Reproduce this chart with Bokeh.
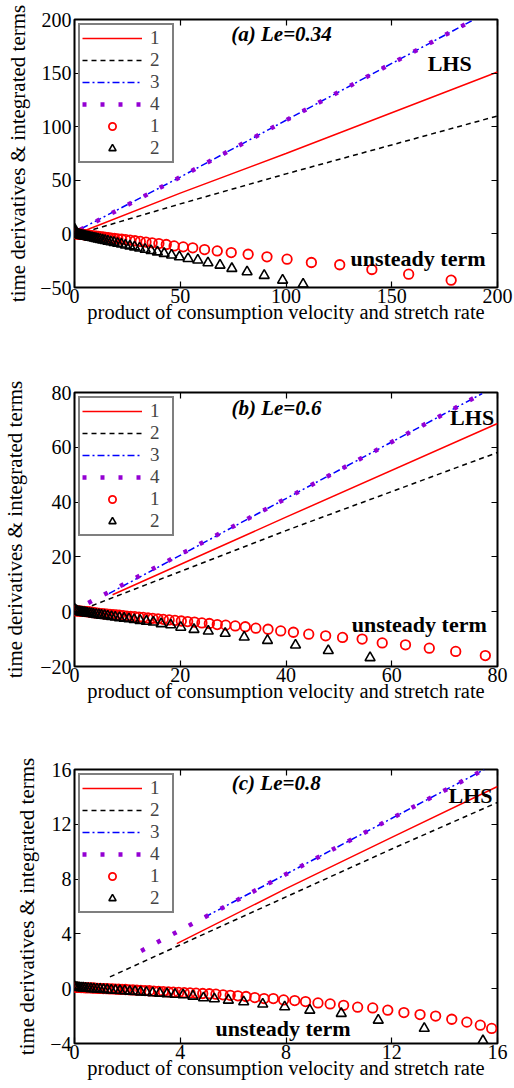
from bokeh.plotting import figure
from bokeh.models import Range1d, LinearAxis, FixedTicker, Legend, LegendItem, Label
from bokeh.layouts import column
from bokeh.embed import file_html
from bokeh.resources import INLINE

SERIF = "Liberation Serif"

# ---------------- panel (a) Le=0.34 ----------------
a_line1_x = [5.0, 50, 100, 150, 200]
a_line1_y = [3.2, 38, 75, 113, 151]
a_line2_x = [8.9, 50, 100, 150, 200]
a_line2_y = [4.1, 28, 56, 83, 110]
a_line3_x = [3.3, 50, 100, 150, 189]
a_line3_y = [5.0, 53, 106, 159, 200]
a_line4_x = [2.7, 50, 100, 150, 189]
a_line4_y = [3.8, 53, 106, 159, 200]
a_circ_x = [178.1, 158.0, 140.6, 125.4, 112.0, 100.5, 91.0, 82.1, 74.1, 67.5, 61.5, 55.9, 51.4, 47.1,
            43.4, 39.9, 36.7, 33.8, 31.1, 28.6, 26.3, 24.2, 22.3, 20.5, 18.9, 17.4, 16.0, 14.7, 13.5,
            12.4, 11.4, 10.4, 9.5, 8.7, 7.9, 7.2, 6.5, 5.9, 5.3, 4.7, 4.2, 3.7, 3.2, 2.8, 2.4, 2.0,
            1.6, 1.3, 1.0, 0.7, 0.4, 0.2, 0.0]
a_circ_y = [-43.2, -37.6, -33.2, -28.8, -26.7, -23.6, -21.4, -19.0, -17.4, -15.9, -14.6, -13.0, -12.1,
            -11.2, -9.9, -9.0, -8.3, -7.6, -7.0, -6.4, -5.9, -5.4, -5.0, -4.6, -4.2, -3.9, -3.5, -3.2,
            -2.9, -2.7, -2.4, -2.2, -2.0, -1.8, -1.6, -1.4, -1.2, -1.1, -0.9, -0.8, -0.6, -0.5, -0.4,
            -0.3, -0.2, -0.1, 0.0, 0.1, 0.2, 0.3, 0.4, 0.5, 0.6]
a_tri_x = [108.1, 98.4, 89.7, 81.6, 74.4, 68.8, 63.1, 58.3, 53.7, 49.6, 45.9, 42.4, 39.2, 36.2, 33.4,
           30.8, 28.4, 26.2, 24.1, 22.2, 20.4, 18.7, 17.2, 15.8, 14.5, 13.3, 12.2, 11.1, 10.1, 9.2,
           8.3, 7.5, 6.8, 6.1, 5.4, 4.8, 4.2, 3.6, 3.1, 2.6, 2.2, 1.8, 1.4, 1.0, 0.7, 0.4, 0.2, 0.1,
           0.05, 0.0]
a_tri_y = [-46.9, -43.2, -38.8, -35.4, -32.3, -29.2, -27.0, -24.5, -23.0, -21.4, -19.8, -18.3, -16.9,
           -15.6, -14.4, -13.3, -12.2, -11.3, -10.4, -9.5, -8.8, -8.0, -7.4, -6.8, -6.2, -5.7, -5.2,
           -4.8, -4.3, -3.9, -3.5, -3.2, -2.9, -2.6, -2.3, -2.0, -1.7, -1.5, -1.2, -1.0, -0.8, -0.6,
           -0.4, -0.2, 0.1, 0.5, 1.0, 3.0, 4.5, 2.0]
a_xticks = [0, 50, 100, 150, 200]
a_yticks = [-50, 0, 50, 100, 150, 200]

# ---------------- panel (b) Le=0.6 ----------------
b_line1_x = [7.2, 40, 80]
b_line1_y = [6.2, 34.5, 68.7]
b_line2_x = [1.7, 40, 80]
b_line2_y = [1.0, 29.6, 58.1]
b_line3_x = [6.5, 40, 77.1]
b_line3_y = [6.6, 41.3, 79.6]
b_line4_x = [2.6, 40, 77.1]
b_line4_y = [3.2, 41.3, 79.6]
b_circ_x = [77.7, 72.1, 67.1, 62.6, 58.2, 54.4, 50.7, 47.5, 44.3, 41.4, 39.0, 36.6, 34.3, 32.3, 30.4,
            28.6, 27.0, 25.5, 24.1, 22.7, 21.4, 20.2, 19.0, 17.9, 16.8, 15.8, 14.8, 13.9, 13.0, 12.2,
            11.4, 10.6, 9.9, 9.2, 8.5, 7.9, 7.3, 6.7, 6.2, 5.7, 5.2, 4.7, 4.3, 3.9, 3.5, 3.1, 2.8,
            2.4, 2.1, 1.8, 1.5, 1.2, 0.9, 0.6, 0.3, 0.0]
b_circ_y = [-16.0, -14.5, -13.3, -12.1, -11.4, -10.0, -9.4, -8.8, -8.2, -7.5, -7.0, -6.4, -6.0, -5.5,
            -5.2, -4.9, -4.7, -4.3, -4.1, -3.8, -3.6, -3.4, -3.2, -3.0, -2.8, -2.6, -2.4, -2.3, -2.1,
            -2.0, -1.8, -1.7, -1.6, -1.4, -1.3, -1.2, -1.1, -1.0, -0.9, -0.8, -0.7, -0.6, -0.5, -0.4,
            -0.3, -0.2, -0.1, 0.0, 0.0, 0.1, 0.1, 0.2, 0.2, 0.3, 0.3, 0.4]
b_tri_x = [55.9, 48.0, 41.8, 36.5, 32.1, 28.5, 25.3, 22.6, 20.1, 18.2, 16.4, 14.9, 13.6, 12.4, 11.3,
           10.3, 9.4, 8.5, 7.7, 7.0, 6.3, 5.7, 5.1, 4.6, 4.1, 3.6, 3.2, 2.8, 2.4, 2.1, 1.8, 1.5, 1.2,
           0.9, 0.6, 0.4, 0.2, 0.0]
b_tri_y = [-16.8, -14.2, -12.2, -10.5, -9.3, -7.9, -7.1, -6.5, -5.7, -4.8, -4.4, -3.8, -3.5, -3.2,
           -2.9, -2.6, -2.4, -2.2, -2.0, -1.8, -1.6, -1.4, -1.3, -1.1, -1.0, -0.9, -0.7, -0.6, -0.5,
           -0.4, -0.3, -0.2, -0.1, 0.0, 0.1, 0.3, 0.6, 1.0]
b_xticks = [0, 20, 40, 60, 80]
b_yticks = [-20, 0, 20, 40, 60, 80]

# ---------------- panel (c) Le=0.8 ----------------
c_line1_x = [3.87, 8, 12, 16]
c_line1_y = [3.29, 7.3, 11.05, 14.76]
c_line2_x = [1.34, 4, 8, 12, 16]
c_line2_y = [0.86, 3.2, 6.7, 10.2, 13.6]
c_line3_x = [4.93, 10, 15.5]
c_line3_y = [5.23, 10.4, 16.0]
c_line4_x = [2.52, 10, 15.5]
c_line4_y = [2.76, 10.4, 16.0]
c_circ_x = [15.78, 15.35, 14.84, 14.27, 13.66, 13.07, 12.46, 11.85, 11.28, 10.71, 10.18, 9.67, 9.21,
            8.74, 8.33, 7.91, 7.52, 7.17, 6.82, 6.49, 6.18, 5.89, 5.62, 5.35, 5.10, 4.85, 4.60, 4.37,
            4.15, 3.94, 3.74, 3.55, 3.36, 3.18, 3.00, 2.83, 2.67, 2.51, 2.36, 2.21, 2.07, 1.93, 1.80,
            1.67, 1.55, 1.43, 1.31, 1.20, 1.09, 0.98, 0.88, 0.78, 0.68, 0.59, 0.50, 0.41, 0.33, 0.25,
            0.17, 0.10, 0.04, 0.00]
c_circ_y = [-2.90, -2.66, -2.44, -2.23, -2.00, -1.89, -1.74, -1.57, -1.40, -1.35, -1.21, -1.11, -1.04,
            -0.94, -0.87, -0.82, -0.72, -0.72, -0.65, -0.57, -0.52, -0.48, -0.45, -0.40, -0.37, -0.35,
            -0.33, -0.31, -0.29, -0.27, -0.25, -0.23, -0.21, -0.19, -0.17, -0.15, -0.14, -0.12, -0.11,
            -0.09, -0.08, -0.06, -0.05, -0.04, -0.03, -0.02, -0.01, 0.00, 0.01, 0.02, 0.03, 0.04, 0.05,
            0.06, 0.06, 0.07, 0.08, 0.08, 0.09, 0.10, 0.10, 0.10]
c_tri_x = [15.45, 13.23, 11.49, 10.09, 8.90, 7.95, 7.12, 6.40, 5.82, 5.29, 4.88, 4.48, 4.11, 3.80,
           3.50, 3.22, 2.96, 2.72, 2.50, 2.29, 2.09, 1.90, 1.72, 1.55, 1.39, 1.24, 1.10, 0.97, 0.85,
           0.73, 0.62, 0.52, 0.42, 0.33, 0.25, 0.17, 0.10, 0.04, 0.00]
c_tri_y = [-3.80, -2.90, -2.30, -1.81, -1.57, -1.33, -1.13, -0.96, -0.84, -0.74, -0.67, -0.55, -0.45,
           -0.41, -0.37, -0.33, -0.30, -0.27, -0.24, -0.21, -0.19, -0.16, -0.14, -0.12, -0.10, -0.08,
           -0.06, -0.04, -0.03, -0.01, 0.00, 0.02, 0.03, 0.05, 0.06, 0.08, 0.10, 0.12, 0.14]
c_xticks = [0, 4, 8, 12, 16]
c_yticks = [-4, 0, 4, 8, 12, 16]

legend_labels = ["1", "2", "3", "4", "1", "2"]
x_label = "product of consumption velocity and stretch rate"
y_label = "time derivatives & integrated terms"


def make_panel(lines, circ, tri, xr, yr, xticks, yticks, height, borders, ylab_standoff,
               title, title_xy, lhs_xy, unst_xy):
    L, R, T, B = borders
    p = figure(width=514, height=height, output_backend="svg", toolbar_location=None,
               x_range=Range1d(*xr), y_range=Range1d(*yr),
               min_border_left=L, min_border_right=R, min_border_top=T, min_border_bottom=B)
    p.grid.visible = False
    p.outline_line_color = "black"
    p.outline_line_width = 2
    p.background_fill_color = "white"
    p.border_fill_color = "white"

    for ax, ticks in ((p.xaxis[0], xticks), (p.yaxis[0], yticks)):
        ax.ticker = FixedTicker(ticks=ticks)
        ax.axis_line_color = None
        ax.major_tick_in = 6
        ax.major_tick_out = 0
        ax.major_tick_line_width = 1.2
        ax.minor_tick_in = 0
        ax.minor_tick_out = 0
        ax.major_label_text_font = SERIF
        ax.major_label_text_font_size = "20px"
        ax.major_label_text_color = "black"
        ax.axis_label_text_font = SERIF
        ax.axis_label_text_font_style = "normal"
        ax.axis_label_text_color = "black"
    p.xaxis[0].axis_label = x_label
    p.yaxis[0].axis_label = y_label
    p.xaxis[0].axis_label_text_font_size = "20.5px"
    p.yaxis[0].axis_label_text_font_size = "21px"
    p.xaxis[0].major_label_standoff = 1
    p.xaxis[0].axis_label_standoff = -5
    p.yaxis[0].major_label_standoff = 3
    p.yaxis[0].axis_label_standoff = ylab_standoff

    for loc, ticks in (("above", xticks), ("right", yticks)):
        ax = LinearAxis(ticker=FixedTicker(ticks=ticks), axis_line_color=None,
                        major_tick_in=6, major_tick_out=0, minor_tick_in=0, minor_tick_out=0,
                        major_tick_line_width=1.2,
                        major_label_text_color=None, major_label_text_font_size="0px",
                        major_label_standoff=0)
        p.add_layout(ax, loc)

    (l1x, l1y), (l2x, l2y), (l3x, l3y), (l4x, l4y) = lines
    r1 = p.line(l1x, l1y, line_color="#ff0000", line_width=1.5)
    r2 = p.line(l2x, l2y, line_color="black", line_width=1.5, line_dash="5 4")
    r3 = p.line(l3x, l3y, line_color="#0000ff", line_width=1.5, line_dash="7 3 2 3")
    r4 = p.line(l4x, l4y, line_color="#9400d3", line_width=4.5, line_dash="4 14")
    r5 = p.scatter(circ[0], circ[1], marker="circle", size=9.5, fill_color=None,
                   line_color="#ff0000", line_width=1.8)
    r6 = p.scatter(tri[0], tri[1], marker="triangle", size=10, fill_color=None,
                   line_color="black", line_width=1.6)

    items = [LegendItem(label=lab, renderers=[r]) for lab, r in
             zip(legend_labels, [r1, r2, r3, r4, r5, r6])]
    leg = Legend(items=items, location="top_left", margin=4, padding=2, spacing=0,
                 glyph_width=60, glyph_height=18, label_height=18, label_standoff=8,
                 label_text_font=SERIF, label_text_font_size="19px",
                 border_line_color="black", border_line_width=2,
                 background_fill_color="white", background_fill_alpha=1.0)
    p.add_layout(leg)

    p.add_layout(Label(x=title_xy[0], y=title_xy[1], text=title, text_font=SERIF,
                       text_font_style="bold italic", text_font_size="21px",
                       text_align="center", text_baseline="middle", text_color="black"))
    p.add_layout(Label(x=lhs_xy[0], y=lhs_xy[1], text="LHS", text_font=SERIF,
                       text_font_style="bold", text_font_size="22px",
                       text_align="center", text_baseline="middle", text_color="black"))
    p.add_layout(Label(x=unst_xy[0], y=unst_xy[1], text="unsteady term", text_font=SERIF,
                       text_font_style="bold", text_font_size="22px",
                       text_align="center", text_baseline="middle", text_color="black"))
    return p


pa = make_panel([(a_line1_x, a_line1_y), (a_line2_x, a_line2_y), (a_line3_x, a_line3_y),
                 (a_line4_x, a_line4_y)], (a_circ_x, a_circ_y), (a_tri_x, a_tri_y),
                (0, 200), (-50, 200), a_xticks, a_yticks, 350, (72, 17, 19, 63), 7,
                "(a) Le=0.34", (97.9, 186.9), (177.4, 159), (162.4, -23))
pb = make_panel([(b_line1_x, b_line1_y), (b_line2_x, b_line2_y), (b_line3_x, b_line3_y),
                 (b_line4_x, b_line4_y)], (b_circ_x, b_circ_y), (b_tri_x, b_tri_y),
                (0, 80), (-20, 80), b_xticks, b_yticks, 356, (71, 10, 42, 40), 10,
                "(b) Le=0.6", (38.2, 74.5), (75.2, 70.9), (65.2, -4.7))
pc = make_panel([(c_line1_x, c_line1_y), (c_line2_x, c_line2_y), (c_line3_x, c_line3_y),
                 (c_line4_x, c_line4_y)], (c_circ_x, c_circ_y), (c_tri_x, c_tri_y),
                (0, 16), (-4, 16), c_xticks, c_yticks, 382, (64, 12, 63, 45), 8,
                "(c) Le=0.8", (7.63, 14.98), (14.98, 14.1), (7.89, -2.9))

layout = column(pa, pb, pc, spacing=0)
open("out.html", "w").write(file_html(layout, INLINE))
